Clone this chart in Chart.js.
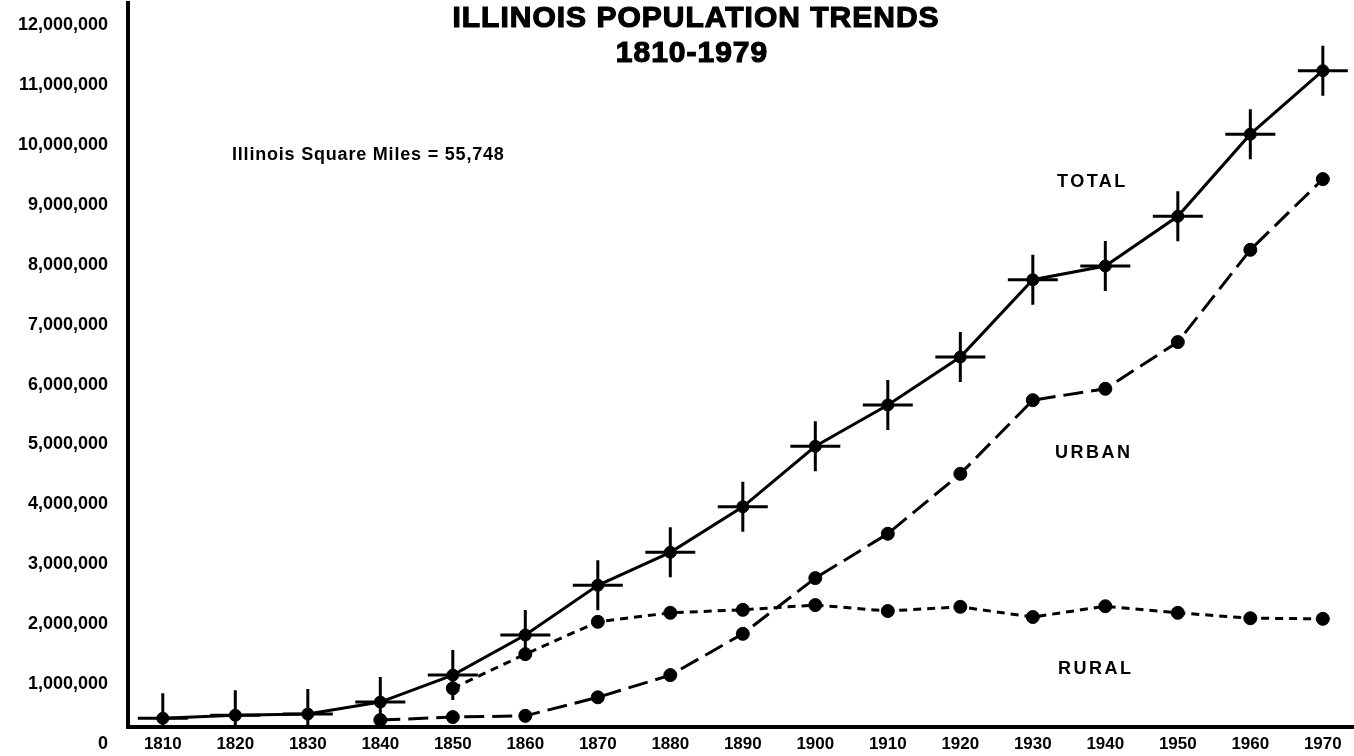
<!DOCTYPE html>
<html>
<head>
<meta charset="utf-8">
<title>Illinois Population Trends 1810-1979</title>
<script src="https://cdn.jsdelivr.net/npm/chart.js@4.4.1/dist/chart.umd.min.js"></script>
<style>
  html, body { margin: 0; padding: 0; background: #fff; }
  canvas { display: block; }
</style>
</head>
<body>
<canvas id="popChart" width="1354" height="756"></canvas>
<script>
var years = [1810, 1820, 1830, 1840, 1850, 1860, 1870, 1880, 1890, 1900, 1910, 1920, 1930, 1940, 1950, 1960, 1970];
var total = [430000, 480000, 500000, 700000, 1150000, 1820000, 2650000, 3200000, 3960000, 4970000, 5660000, 6460000, 7750000, 7980000, 8810000, 10180000, 11240000];
var urban = [null, null, null, 400000, 450000, 470000, 780000, 1150000, 1840000, 2770000, 3510000, 4510000, 5740000, 5930000, 6710000, 8250000, 9430000];
var rural = [null, null, null, null, 930000, 1500000, 2040000, 2190000, 2240000, 2320000, 2220000, 2290000, 2120000, 2300000, 2190000, 2100000, 2090000];
var yTicks = [0, 1000000, 2000000, 3000000, 4000000, 5000000, 6000000, 7000000, 8000000, 9000000, 10000000, 11000000, 12000000];

var FONT = "'Liberation Sans', Arial, Helvetica, sans-serif";

function points(values) {
    var out = [];
    for (var i = 0; i < years.length; i++) {
        if (values[i] !== null) out.push({ x: years[i], y: values[i] });
    }
    return out;
}

// axes keep a fixed size, no extra room for the end labels
function noPadding(scale) {
    scale.paddingTop = 0;
    scale.paddingBottom = 0;
    scale.paddingLeft = 0;
    scale.paddingRight = 0;
}

// title and the free text labels painted on top of the plot
var notesPlugin = {
    id: 'notes',
    afterDraw: function (chart) {
        var ctx = chart.ctx;
        ctx.save();
        ctx.fillStyle = '#000';
        ctx.strokeStyle = '#000';
        ctx.textBaseline = 'alphabetic';

        // heavy title: fill plus a thin stroke
        ctx.textAlign = 'center';
        ctx.font = 'bold 30px ' + FONT;
        ctx.letterSpacing = '1px';
        ctx.lineWidth = 1.2;
        ctx.fillText('ILLINOIS POPULATION TRENDS', 696, 27);
        ctx.strokeText('ILLINOIS POPULATION TRENDS', 696, 27);
        ctx.fillText('1810-1979', 692, 62);
        ctx.strokeText('1810-1979', 692, 62);

        ctx.textAlign = 'left';
        ctx.font = 'bold 18px ' + FONT;
        ctx.letterSpacing = '0.8px';
        ctx.fillText('Illinois Square Miles = 55,748', 232, 160);

        ctx.letterSpacing = '2.5px';
        ctx.fillText('TOTAL', 1057, 187);
        ctx.fillText('URBAN', 1055, 458);
        ctx.fillText('RURAL', 1058, 674);
        ctx.restore();
    }
};

var ctx = document.getElementById('popChart');
var popChart = new Chart(ctx, {
    type: 'line',
    data: {
        datasets: [{
            label: 'Total',
            data: points(total),
            borderColor: '#000',
            borderWidth: 3,
            pointStyle: 'cross',
            pointRadius: 25,
            pointBorderWidth: 3,
            pointBorderColor: '#000',
            tension: 0
        }, {
            label: 'Total points',
            data: points(total),
            showLine: false,
            pointStyle: 'circle',
            pointRadius: 6,
            pointBackgroundColor: '#000',
            pointBorderColor: '#000',
            pointBorderWidth: 1
        }, {
            label: 'Urban',
            data: points(urban),
            borderColor: '#000',
            borderWidth: 3,
            borderDash: [20, 8],
            pointStyle: 'circle',
            pointRadius: 6.5,
            pointBackgroundColor: '#000',
            pointBorderColor: '#000',
            pointBorderWidth: 1,
            tension: 0
        }, {
            label: 'Rural',
            data: points(rural),
            borderColor: '#000',
            borderWidth: 3,
            borderDash: [8, 6],
            pointStyle: 'circle',
            pointRadius: 6.5,
            pointBackgroundColor: '#000',
            pointBorderColor: '#000',
            pointBorderWidth: 1,
            tension: 0
        }]
    },
    options: {
        responsive: false,
        animation: false,
        layout: { autoPadding: false, padding: { top: 3, right: 0, bottom: 0, left: 0 } },
        plugins: {
            legend: { display: false },
            tooltip: { enabled: false },
            title: { display: false }
        },
        scales: {
            x: {
                type: 'linear',
                min: 1805.2,
                max: 1974.3,
                afterBuildTicks: function (scale) {
                    scale.ticks = years.map(function (v) { return { value: v }; });
                },
                afterFit: function (scale) {
                    scale.height = 29;
                    noPadding(scale);
                },
                grid: { display: false, drawTicks: false },
                border: { display: true, color: '#000', width: 4 },
                ticks: {
                    color: '#000',
                    autoSkip: false,
                    maxRotation: 0,
                    padding: 7,
                    font: { family: FONT, size: 17, weight: 'bold' },
                    callback: function (v) { return String(v); }
                }
            },
            y: {
                type: 'linear',
                min: 284000,
                max: 12370000,
                afterBuildTicks: function (scale) {
                    scale.ticks = yTicks.map(function (v) { return { value: v }; });
                },
                afterFit: function (scale) {
                    scale.width = 128;
                    noPadding(scale);
                },
                grid: { display: false, drawTicks: false },
                border: { display: true, color: '#000', width: 4 },
                ticks: {
                    color: '#000',
                    autoSkip: false,
                    padding: 20,
                    font: { family: FONT, size: 18, weight: 'bold' },
                    callback: function (v) { return Number(v).toLocaleString('en-US'); }
                }
            }
        }
    },
    plugins: [notesPlugin]
});
</script>
</body>
</html>
